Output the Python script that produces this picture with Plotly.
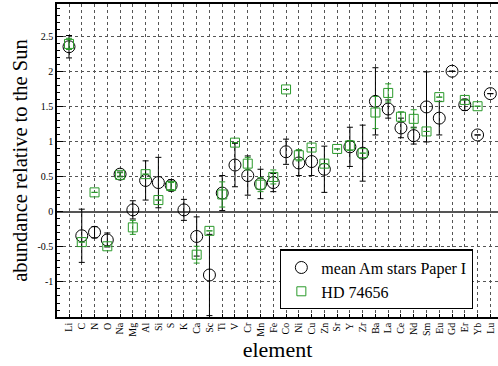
import plotly.graph_objects as go

elements = ["Li", "C", "N", "O", "Na", "Mg", "Al", "Si", "S", "K", "Ca", "Sc", "Ti", "V",
            "Cr", "Mn", "Fe", "Co", "Ni", "Cu", "Zn", "Sr", "Y", "Zr", "Ba", "La", "Ce",
            "Nd", "Sm", "Eu", "Gd", "Er", "Yb", "Lu"]

mean_am = [2.36, -0.34, -0.29, -0.40, 0.54, 0.03, 0.45, 0.42, 0.38, 0.03, -0.35, -0.90,
           0.27, 0.67, 0.52, 0.40, 0.42, 0.86, 0.70, 0.72, 0.61, None, 0.93, 0.84, 1.58,
           1.47, 1.20, 1.09, 1.50, 1.34, 2.01, 1.53, 1.10, 1.69]
mean_err = [0.16, 0.38, 0.08, 0.10, 0.03, 0.13, 0.28, 0.36, 0.08, 0.15, 0.28, 0.58,
            0.25, 0.31, 0.28, 0.21, 0.13, 0.18, 0.18, 0.20, 0.33, None, 0.28, 0.40, 0.48,
            0.13, 0.14, 0.12, 0.50, 0.24, None, 0.08, None, None]

hd74656 = [2.40, -0.43, 0.28, -0.49, 0.53, -0.22, 0.54, 0.17, 0.37, None, -0.61, -0.27,
           0.25, 0.99, 0.69, 0.39, 0.50, 1.75, 0.81, 0.92, 0.69, 0.90, 0.95, 0.84, 1.42,
           1.70, 1.36, 1.33, 1.15, 1.64, None, 1.60, 1.51, None]
hd_err = [0.08, None, None, None, 0.03, 0.10, None, None, 0.05, None, 0.12, None,
          0.18, None, 0.09, 0.10, 0.10, None, 0.08, None, None, None, 0.07, None, 0.23,
          0.13, 0.07, 0.13, None, None, None, None, None, None]

xs = list(range(len(elements)))
green = "#2a9a2a"
serif = "Liberation Serif, Times New Roman, serif"

fig = go.Figure()
fig.add_trace(go.Scatter(
    x=xs, y=mean_am, mode="markers", name="mean Am stars Paper I",
    marker=dict(symbol="circle-open", size=12, color="black", line=dict(width=1)),
    error_y=dict(type="data", array=mean_err, color="black", thickness=1, width=3),
))
fig.add_trace(go.Scatter(
    x=xs, y=hd74656, mode="markers", name="HD 74656",
    marker=dict(symbol="square-open", size=9, color=green, line=dict(width=1)),
    error_y=dict(type="data", array=hd_err, color=green, thickness=1, width=3),
))

fig.update_layout(
    width=498, height=366,
    margin=dict(l=57, r=0, t=4, b=49, autoexpand=False),
    paper_bgcolor="white", plot_bgcolor="white",
    font=dict(family=serif, color="black"),
    showlegend=True,
    legend=dict(x=0.506, y=0.216, xanchor="left", yanchor="top",
                bgcolor="white", bordercolor="black", borderwidth=1.2,
                font=dict(family=serif, size=16), tracegroupgap=0),
    xaxis=dict(
        range=[-0.94, 33.6], tickmode="array", tickvals=xs, ticktext=elements,
        tickangle=-90, tickfont=dict(size=10, family=serif), automargin=False,
        showline=True, linecolor="black", linewidth=1.5, mirror=True,
        showgrid=True, gridcolor="#555", griddash="dot", gridwidth=1,
        ticks="inside", ticklen=3, tickcolor="black", zeroline=False,
        title=dict(text="element", font=dict(size=22, family=serif), standoff=2),
    ),
    yaxis=dict(
        range=[-1.5, 2.97], tickmode="array",
        tickvals=[-1, -0.5, 0, 0.5, 1, 1.5, 2, 2.5],
        ticktext=["-1", "-0.5", "0", "0.5", "1", "1.5", "2", "2.5"],
        tickfont=dict(size=10, family=serif), automargin=False,
        showline=True, linecolor="black", linewidth=1.5, mirror=True,
        showgrid=True, gridcolor="#555", griddash="dot", gridwidth=1,
        ticks="inside", ticklen=6, tickcolor="black",
        minor=dict(dtick=0.1, tick0=0, ticks="inside", ticklen=3, tickcolor="black", showgrid=False),
        zeroline=True, zerolinecolor="#555", zerolinewidth=1.5,
        title=dict(text="abundance relative to the Sun", font=dict(size=20.5, family=serif), standoff=4),
    ),
)

fig.write_html("out.html", config={"displayModeBar": False},
               post_script="document.body.style.margin='0';document.body.style.overflow='hidden';")
